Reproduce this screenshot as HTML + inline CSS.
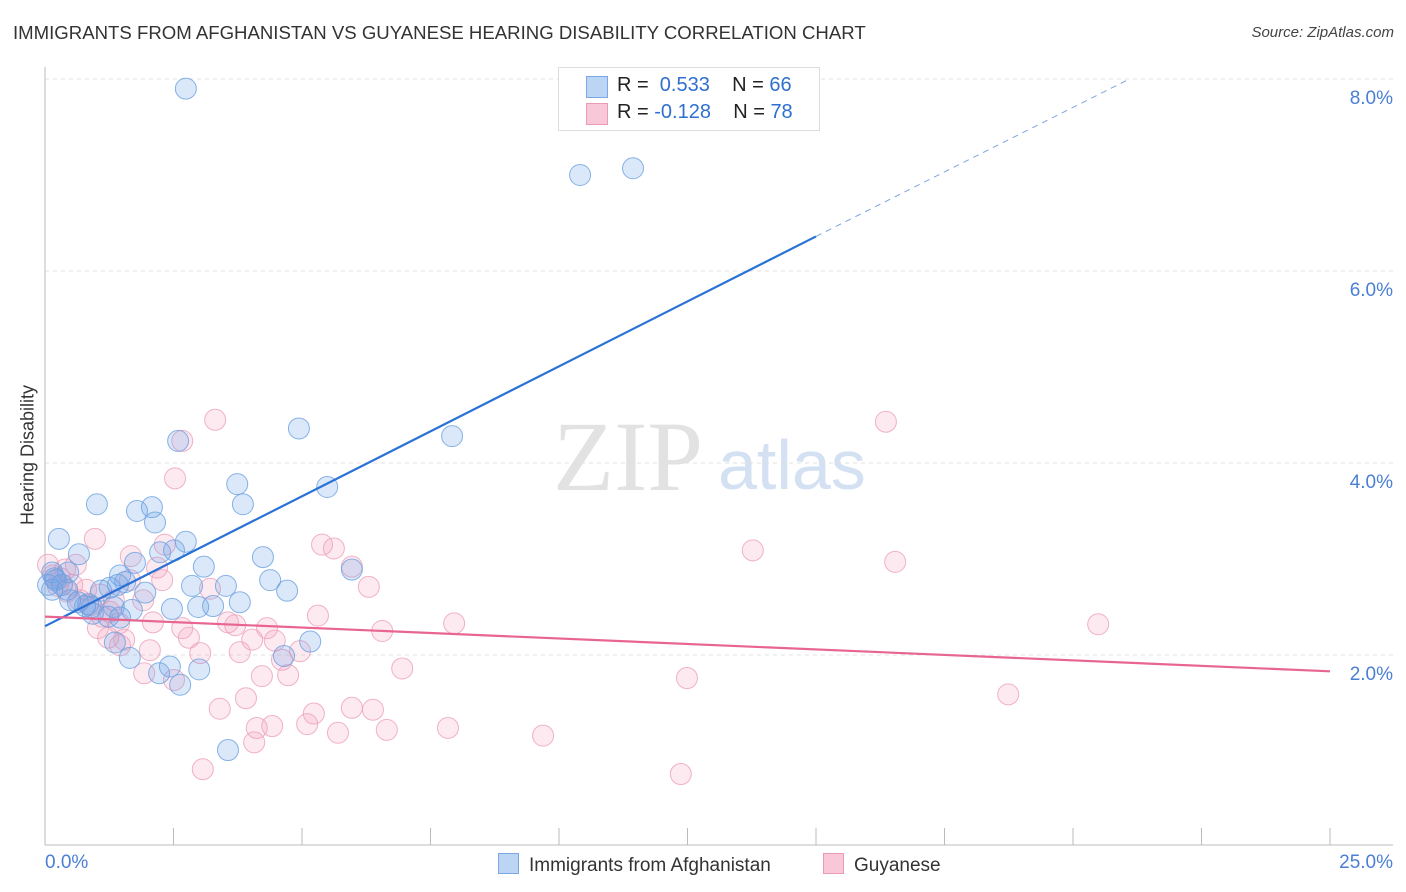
<!DOCTYPE html>
<html><head><meta charset="utf-8"><style>
body{margin:0;background:#fff;font-family:"Liberation Sans",sans-serif;}
#wrap{position:relative;width:1406px;height:892px;overflow:hidden;}
.t{position:absolute;white-space:nowrap;}
</style></head><body>
<div id="wrap">
<div class="t" style="left:13px;top:22px;font-size:18.6px;color:#333;">IMMIGRANTS FROM AFGHANISTAN VS GUYANESE HEARING DISABILITY CORRELATION CHART</div>
<div class="t" style="right:12px;top:24px;font-size:15px;color:#444;font-style:italic;">Source: ZipAtlas.com</div>
<svg id="svg" width="1406" height="892" style="position:absolute;left:0;top:0"></svg>
</div>
<script>
const blueX=[2.74,10.41,11.44,4.94,7.92,2.59,3.74,5.49,1.01,3.85,1.79,2.08,2.14,0.27,2.74,2.24,2.51,4.24,0.66,3.09,5.97,1.46,1.75,0.14,0.45,1.56,4.38,0.21,0.06,3.52,2.86,4.71,1.26,1.95,0.43,1.09,3.79,0.64,0.84,0.91,1.34,1.69,2.47,2.98,3.27,1.23,0.93,1.46,5.16,1.36,1.65,4.65,2.22,2.43,2.63,3.00,3.56,0.19,0.33,0.78,1.42,0.14,0.49];
const blueY=[7.90,7.00,7.07,4.36,4.28,4.23,3.78,3.75,3.57,3.57,3.50,3.54,3.38,3.21,3.18,3.07,3.09,3.02,3.05,2.92,2.89,2.83,2.96,2.86,2.86,2.76,2.78,2.78,2.73,2.72,2.72,2.67,2.70,2.65,2.68,2.67,2.55,2.55,2.53,2.50,2.50,2.47,2.48,2.50,2.51,2.40,2.43,2.39,2.14,2.13,1.97,1.99,1.81,1.88,1.69,1.85,1.01,2.80,2.73,2.51,2.73,2.68,2.57];
const pinkX=[3.31,16.36,2.67,2.53,0.97,5.39,5.62,13.77,16.54,1.67,2.33,5.97,0.60,2.18,2.28,6.30,0.06,0.29,0.43,0.80,3.21,1.91,1.34,5.31,1.11,2.10,3.56,2.67,4.32,1.03,20.49,7.96,6.56,2.80,1.23,1.54,1.44,4.03,4.47,2.04,3.02,3.79,4.96,4.61,6.95,1.93,2.51,4.22,4.73,12.49,18.74,3.91,3.40,5.97,6.38,5.23,4.12,4.42,5.10,5.70,6.65,7.84,9.69,4.07,3.07,12.37,0.16,0.53,0.25,0.68,0.88,1.65,3.70,1.26,0.39,1.07,1.46];
const pinkY=[4.45,4.43,4.23,3.84,3.21,3.15,3.11,3.09,2.97,3.03,3.15,2.92,2.94,2.91,2.78,2.71,2.94,2.80,2.66,2.68,2.69,2.57,2.57,2.41,2.40,2.34,2.34,2.28,2.28,2.28,2.32,2.33,2.25,2.18,2.18,2.16,2.33,2.16,2.15,2.05,2.02,2.03,2.04,1.95,1.86,1.81,1.74,1.78,1.79,1.76,1.59,1.55,1.44,1.45,1.43,1.39,1.24,1.26,1.28,1.19,1.22,1.24,1.16,1.09,0.81,0.76,2.83,2.73,2.72,2.57,2.52,2.78,2.31,2.45,2.89,2.63,2.10];
const yTicks=[2,4,6,8];
const xTickVals=[0,2.5,5,7.5,10,12.5,15,17.5,20,22.5,25];
const blueTrend=[[0,2.30],[15,6.36],[21.1,8.0]];
const pinkTrend=[[0,2.40],[25,1.83]];

const NS="http://www.w3.org/2000/svg";
const svg=document.getElementById('svg');
const X=v=>45+v*51.4, Y=v=>847-v*96;
function mk(tag,attrs,parent){const e=document.createElementNS(NS,tag);for(const k in attrs)e.setAttribute(k,attrs[k]);(parent||svg).appendChild(e);return e;}
let wm=mk('text',{x:553,y:490,'font-size':100,'font-family':'Liberation Serif, serif',fill:'#e2e2e2'});wm.textContent='ZIP';


let wm2=mk('text',{x:718,y:489,'font-size':70,'font-family':'Liberation Sans, sans-serif',fill:'#d3e1f3'});wm2.textContent='atlas';


yTicks.forEach(v=>{
 const g=mk('line',{x1:45,x2:1393,y1:Y(v),y2:Y(v),stroke:'#e0e0e0','stroke-dasharray':'4,4'});
 
 
 const t=mk('text',{x:1393,y:Y(v)+25,'text-anchor':'end','font-size':19,fill:'#4a7fd4'});t.textContent=v.toFixed(1)+'%';
 
 
});
mk('line',{x1:45,x2:45,y1:67,y2:845,stroke:'#bbb'});
mk('line',{x1:45,x2:1393,y1:845,y2:845,stroke:'#bbb'});
xTickVals.forEach(v=>{const l=mk('line',{x1:X(v),x2:X(v),y1:828,y2:845,stroke:'#bbb'});
 
 });
function dots(xs,ys,fill,stroke,name){xs.forEach((x,i)=>{const c=mk('circle',{cx:X(x),cy:Y(ys[i]),r:10.5,fill:fill,stroke:stroke,'stroke-width':1,'stroke-opacity':0.8});
 
 });}
dots(pinkX,pinkY,'rgba(244,160,188,0.22)','#ec9fb9','guyanese-point');
dots(blueX,blueY,'rgba(110,165,230,0.25)','#6aa0e0','afghanistan-point');
let bl=mk('line',{x1:X(blueTrend[0][0]),y1:Y(blueTrend[0][1]),x2:X(blueTrend[1][0]),y2:Y(blueTrend[1][1]),stroke:'#2a72d6','stroke-width':2.2});

let bd=mk('line',{x1:X(blueTrend[1][0]),y1:Y(blueTrend[1][1]),x2:X(blueTrend[2][0]),y2:Y(blueTrend[2][1]),stroke:'#7aa6e0','stroke-width':1,'stroke-dasharray':'6,5'});

let pl=mk('line',{x1:X(pinkTrend[0][0]),y1:Y(pinkTrend[0][1]),x2:X(pinkTrend[1][0]),y2:Y(pinkTrend[1][1]),stroke:'#e86592','stroke-width':2.2});

</script>
<div class="t" style="left:28px;top:455px;font-size:18px;color:#333;transform:translate(-50%,-50%) rotate(-90deg);">Hearing Disability</div>
<div class="t" style="left:45px;top:852px;font-size:19px;color:#4a7fd4;">0.0%</div>
<div class="t" style="right:13px;top:852px;font-size:19px;color:#4a7fd4;">25.0%</div>
<div style="position:absolute;left:558px;top:67px;width:260px;height:62px;border:1px solid #ddd;background:#fff;font-size:20px;color:#222;">
 <div style="position:absolute;left:27px;top:8px;width:20px;height:20px;background:#bcd5f5;border:1px solid #7aa8e6;"></div>
 <div class="t" style="left:58px;top:6px;">R = &nbsp;<span style="color:#2f6fd0">0.533</span>&nbsp;&nbsp;&nbsp; N = <span style="color:#2f6fd0">66</span></div>
 <div style="position:absolute;left:27px;top:35px;width:20px;height:20px;background:#f9c8d8;border:1px solid #eb9ab5;"></div>
 <div class="t" style="left:58px;top:33px;">R = <span style="color:#2f6fd0">-0.128</span>&nbsp;&nbsp;&nbsp; N = <span style="color:#2f6fd0">78</span></div>
</div>
<div style="position:absolute;left:498px;top:853px;font-size:19px;color:#333;">
 <span style="display:inline-block;width:19px;height:19px;background:#bcd5f5;border:1px solid #7aa8e6;vertical-align:-3px;margin-right:10px;"></span>Immigrants from Afghanistan</div>
<div style="position:absolute;left:823px;top:853px;font-size:19px;color:#333;">
 <span style="display:inline-block;width:19px;height:19px;background:#f9c8d8;border:1px solid #eb9ab5;vertical-align:-3px;margin-right:10px;"></span>Guyanese</div>
</body></html>
